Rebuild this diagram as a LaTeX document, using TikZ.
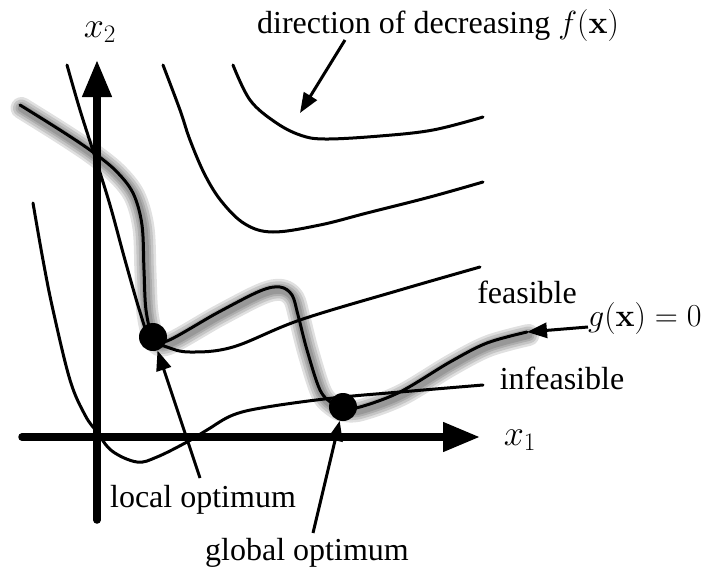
\RequirePackage{fix-cm}
\documentclass[tikz,border=0pt]{standalone}
\usepackage[no-math]{fontspec}
\setmainfont{Liberation Serif}
\usetikzlibrary{arrows.meta}
\begin{document}
\begin{tikzpicture}[x=1pt,y=-1pt,
  contour/.style={line width=3pt, line cap=round, line join=round},
  axis/.style={line width=7.5pt, line cap=round, -{Triangle[length=37pt,width=28pt]}},
  pointer/.style={line width=3pt, -{Triangle[length=20pt,width=15pt]}},
  lbl/.style={font=\fontsize{32}{38}\selectfont, inner sep=0pt},
  mlbl/.style={font=\fontsize{36}{42}\selectfont, inner sep=0pt},
  dot/.style={circle, fill=black, minimum size=28pt, inner sep=0pt},
  shadowline/.style={line width=#1, draw=black, opacity=0.12, line cap=round, line join=round}
]
\useasboundingbox (0,0) rectangle (716,576);

\def\gpath{plot[smooth,tension=0.55] coordinates {(20,105) (60,130) (90,150) (115,170) (133,193) (142,225) (144,270) (146,310) (153,337) (167,341) (217,313) (260,291) (280,287) (292,295) (298,315) (307,350) (320,390) (333,404) (343,408) (360,407) (400,392) (450,362) (487,343) (527,332)}}

% shadow of the constraint curve
\foreach \w in {22,17,12,8}{
  \draw[shadowline=\w pt] [xshift=1.5pt, yshift=-3pt] \gpath;
}

% contours of f
\draw[contour] plot[smooth,tension=0.6] coordinates {(233,65) (250,100) (275,122) (300,135) (325,139) (380,136) (433,130) (483,117)};
\draw[contour] plot[smooth,tension=0.6] coordinates {(163,65) (180,110) (190,140) (205,175) (222,202) (245,224) (273,232) (320,225) (367,213) (430,197) (483,182)};
\draw[contour] plot[smooth,tension=0.6] coordinates {(67,65) (80,110) (95,157) (110,205) (125,260) (140,312) (150,338) (167,347) (190,352) (233,347) (300,320) (400,290) (480,267)};
\draw[contour] plot[smooth,tension=0.6] coordinates {(33,203) (43,260) (53,310) (70,380) (85,415) (97,432) (112,451) (137,462) (157,457) (187,442) (207,430) (233,415) (267,407) (333,398) (400,392) (483,385)};

% constraint curve g(x)=0
\draw[contour] \gpath;
\coordinate (gend) at (527,332);

% axes
\coordinate (x1s) at (22,437);
\coordinate (x1e) at (480,437);
\coordinate (x2s) at (97,520);
\coordinate (x2e) at (97,60);
\draw[axis] (x1s) -- (x1e);
\draw[axis] (x2s) -- (x2e);

% optima
\node[dot] (lopt) at (153,337) {};
\node[dot] (gopt) at (343,407) {};

% labels
\node[mlbl] (x2lab) at (100,32) {$x_2$};
\node[mlbl] (x1lab) at (520,440) {$x_1$};
\node[lbl] (dir) at (438,25) {direction of decreasing $f(\mathbf{x})$};
\node[lbl] (feas) at (527,292) {feasible};
\node[lbl] (infeas) at (562,378) {infeasible};
\node[lbl, anchor=west] (glab) at (588,318) {$g(\mathbf{x})=0$};
\node[lbl] (loclab) at (203,500) {local optimum};
\node[lbl] (glolab) at (307,553) {global optimum};

% pointers
\coordinate (dirt) at (345,40);
\coordinate (dirh) at (300,113);
\coordinate (loct) at (200,478);
\coordinate (glot) at (313,533);
\coordinate (gt) at (588,327);
\draw[pointer] (dirt) -- (dirh);
\draw[pointer] (loct) -- (lopt);
\draw[pointer] (glot) -- (gopt);
\draw[pointer] (gt) -- (gend);
\end{tikzpicture}
\end{document}
